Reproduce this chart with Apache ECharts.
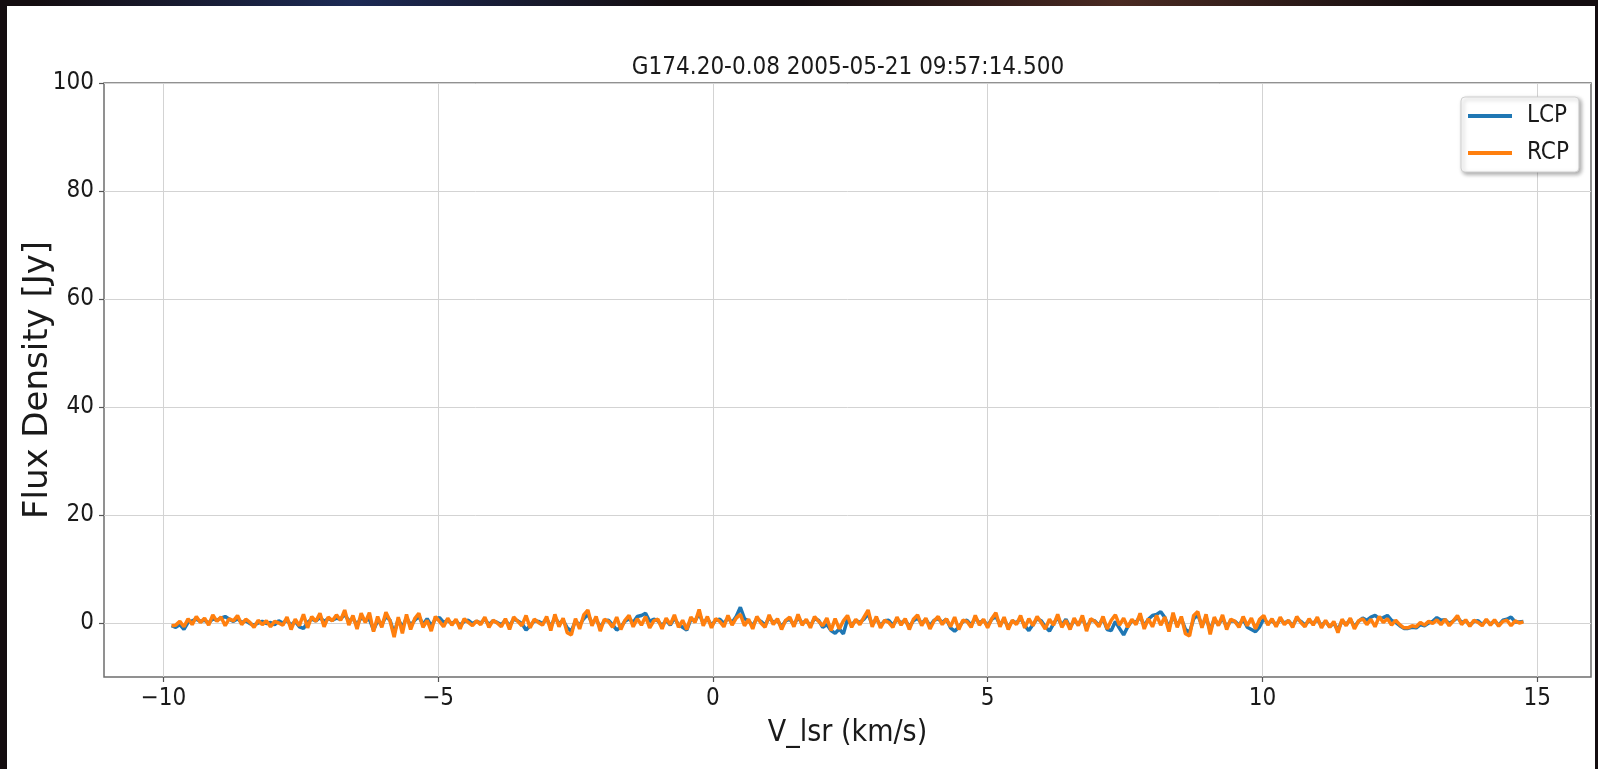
<!DOCTYPE html>
<html>
<head>
<meta charset="utf-8">
<title>G174.20-0.08 spectrum</title>
<script src="https://cdn.jsdelivr.net/npm/echarts@6/dist/echarts.min.js"></script>
<style>
  html, body {
    margin: 0;
    padding: 0;
    width: 1598px;
    height: 769px;
    overflow: hidden;
    /* dark starfield behind the panel */
    background: radial-gradient(ellipse at 22% 0%, #1c2a55 0%, rgba(0,0,0,0) 18%),
                radial-gradient(ellipse at 70% 0%, #4a2a22 0%, rgba(0,0,0,0) 20%),
                #140d10;
  }
  .panel {
    position: absolute;
    left: 7px;
    top: 6px;
    width: 1588px;
    height: 763px;
    background: #ffffff;
  }
  #chart {
    position: absolute;
    left: 0;
    top: 0;
    width: 1598px;
    height: 769px;
  }
</style>
</head>
<body>
<div class="panel"></div>
<div id="chart"></div>
<script>
// 标题 / 轴名
const titleText = 'G174.20-0.08 2005-05-21 09:57:14.500'
const seriesNames = ['LCP', 'RCP']

// 速度通道范围 (km/s)
const velStart = -9.85
const velEnd = 14.75

// 刻度
const xTicks = [-10, -5, 0, 5, 10, 15]
const yTicks = [0, 20, 40, 60, 80, 100]

// LCP 流量 (Jy)
const lcpFlux = [
  -0.5,-0.8,-0.3,-1.2,0.1,0.4,0.7,0.3,0.5,0.0,0.8,0.5,0.9,1.2,0.7,0.3,0.8,0.1,0.4,-0.1,
  -0.4,0.0,0.3,-0.1,0.1,-0.3,0.4,0.0,0.5,-0.4,0.3,-0.7,-1.0,0.1,0.7,0.4,1.0,0.3,0.8,0.5,
  0.9,0.7,1.6,0.4,0.8,-0.3,1.0,0.5,0.7,-1.3,0.4,-0.3,1.2,0.5,-1.9,0.7,-0.8,1.0,-0.4,0.5,
  1.2,-0.3,0.8,-0.5,0.7,1.0,0.1,0.5,-0.1,0.4,-0.4,0.3,0.5,-0.1,0.3,0.0,0.7,-0.3,0.4,0.1,
  -0.3,0.5,-0.5,0.7,0.4,-0.1,-1.3,-0.5,0.4,0.3,-0.1,0.8,-0.7,1.0,-0.1,0.5,-0.9,-1.5,0.4,-0.4,
  0.8,1.6,0.0,0.7,-0.8,0.4,0.5,-0.3,-1.3,-0.7,0.3,0.8,0.1,1.2,1.4,1.8,0.3,0.7,0.4,-0.5,
  0.5,-0.4,0.9,-0.3,-0.8,-1.3,0.7,0.4,1.7,0.0,0.8,-0.4,0.5,0.7,-0.1,0.9,0.1,1.2,2.9,0.8,
  0.4,-0.5,0.8,0.3,-0.4,1.0,0.1,0.5,-0.7,0.4,0.7,-0.3,1.0,0.0,0.4,-0.5,0.8,0.5,-0.8,-0.3,
  -1.4,-1.9,-1.1,-2.0,0.7,-0.4,0.5,0.1,0.7,1.7,-0.3,0.8,-0.5,0.4,0.5,-0.4,0.7,0.0,0.5,-0.7,
  0.4,0.9,-0.1,0.7,-0.5,0.5,0.8,0.1,0.7,-0.9,-1.5,-0.8,0.3,0.5,-0.4,0.9,0.0,0.5,-0.5,0.7,
  1.2,-0.3,0.7,-0.8,0.4,0.0,0.9,-0.5,-1.4,-0.3,0.8,0.4,-0.7,-1.5,-0.1,1.0,-0.4,0.7,-0.8,0.5,
  -0.3,0.9,-0.9,0.5,0.4,-0.4,0.8,-1.2,-1.4,0.3,-1.0,-2.2,-0.7,0.4,0.1,1.2,-0.5,0.7,1.4,1.6,
  2.1,1.0,-0.8,1.3,-0.4,0.8,-1.2,-1.7,0.8,1.5,-0.5,1.0,-1.3,0.7,-0.3,0.9,-0.7,0.4,0.3,-0.4,
  0.7,-0.8,-1.2,-1.6,-0.7,0.8,-0.1,0.5,-0.4,0.7,0.0,0.4,-0.5,0.8,0.3,-0.4,0.5,-0.1,0.7,-0.5,
  0.3,-0.7,0.0,-1.3,0.4,-0.3,0.7,-0.7,0.3,0.9,0.5,1.1,1.4,0.8,1.0,1.4,0.5,0.1,-0.5,-1.0,
  -1.0,-0.8,-0.9,-0.3,-0.5,0.0,0.3,1.0,0.5,0.6,-0.1,0.4,1.0,0.1,0.4,-0.4,0.3,0.4,-0.3,0.5,
  -0.2,0.4,-0.4,0.5,0.7,1.1,0.2,0.2,0.3
]

// RCP 流量 (Jy)
const rcpFlux = [
  -0.5,-0.4,0.3,-0.7,0.8,-0.3,1.2,0.1,0.9,-0.4,1.5,0.3,1.1,-0.5,0.8,0.4,1.4,-0.3,0.7,0.1,
  -0.8,0.5,-0.3,0.4,-0.7,0.3,0.0,-0.4,1.1,-1.2,0.7,-0.5,1.6,-0.9,1.2,0.3,1.8,-0.7,1.1,0.4,
  1.5,0.5,2.4,-0.4,1.4,-1.1,1.8,0.1,1.9,-1.6,1.2,-0.8,2.0,0.4,-2.6,1.1,-1.9,1.6,-1.2,0.8,
  1.8,-0.8,0.5,-1.5,1.2,0.3,-0.7,0.9,-0.4,0.7,-1.1,0.8,0.1,-0.5,0.4,-0.3,1.1,-0.8,0.5,0.0,
  -0.7,0.8,-1.2,1.1,0.3,-0.5,1.4,-0.9,0.7,0.1,-0.4,1.2,-1.4,1.6,-0.7,0.9,-1.8,-2.2,0.8,-1.1,
  1.5,2.4,-0.5,1.2,-1.5,0.7,0.3,-0.8,1.1,-1.2,0.5,1.4,-0.7,0.8,-0.4,1.2,-0.9,0.4,0.7,-1.1,
  0.9,-0.3,1.5,-0.8,0.5,-1.2,1.1,0.1,2.5,-0.5,1.2,-0.9,0.8,0.3,-0.7,1.4,-0.4,0.9,1.6,-0.5,
  0.7,-1.1,1.2,0.0,-0.8,1.5,-0.3,0.8,-1.2,0.5,1.1,-0.7,1.6,-0.4,0.7,-0.9,1.2,0.3,-0.5,0.9,
  -1.4,0.8,-1.1,0.4,1.4,-0.8,0.7,-0.3,1.1,2.4,-0.7,1.2,-0.9,0.5,0.1,-0.8,1.1,-0.4,0.8,-1.2,
  0.7,1.5,-0.5,0.9,-1.1,0.4,1.2,-0.3,0.8,-0.7,1.1,-1.2,0.5,0.3,-0.8,1.4,-0.4,0.7,-0.9,0.8,
  1.9,-0.7,1.1,-1.2,0.5,-0.3,1.4,-0.9,0.8,-0.5,1.2,0.1,-1.1,0.7,-0.4,1.6,-0.8,0.5,-1.2,0.9,
  -0.5,1.4,-1.5,0.8,0.3,-0.7,1.2,-1.1,0.5,1.5,-0.4,0.9,-0.8,0.7,-0.3,1.8,-1.1,0.8,-0.7,1.4,
  -0.4,1.1,-1.6,1.9,-0.8,1.2,-2.0,-2.4,1.4,2.1,-0.9,1.6,-2.1,1.1,-0.5,1.5,-1.2,0.7,0.3,-0.8,
  1.2,-0.5,0.9,-1.1,0.7,1.4,-0.4,0.8,-0.7,1.1,-0.3,0.5,-0.8,1.2,0.1,-0.7,0.8,-0.4,1.1,-0.9,
  0.5,-0.8,0.3,-1.8,0.7,-0.5,0.9,-1.1,0.4,0.8,-0.3,0.7,-0.7,1.2,0.1,0.8,-0.4,0.5,-0.3,-0.9,
  -0.9,-0.5,-0.7,0.1,-0.4,0.3,-0.1,0.6,-0.3,0.7,-0.5,0.4,1.4,-0.3,0.6,-0.6,0.5,0.1,-0.5,0.7,
  -0.4,0.6,-0.6,0.3,0.5,-0.5,0.4,0.0,0.2
]

// 通道 -> [速度, 流量]
const toPoints = (flux) => {
  const step = (velEnd - velStart) / (flux.length - 1)
  return flux.map((v, i) => [velStart + i * step, v])
}

const tickFont = "'DejaVu Sans Condensed', 'DejaVu Sans', sans-serif"

const chartInstance = echarts.init(document.getElementById('chart'), null, { renderer: 'canvas' })

const option = {
  backgroundColor: 'transparent',
  animation: false,
  color: ['#1f77b4', '#ff7f0e'],
  title: {
    text: titleText,
    left: 848,
    top: 56,
    textAlign: 'center',
    padding: 0,
    textStyle: {
      fontFamily: tickFont,
      fontSize: 24,
      fontWeight: 'normal',
      color: '#1a1a1a'
    }
  },
  legend: {
    data: seriesNames,
    orient: 'vertical',
    left: 1461,
    top: 97,
    padding: [7, 10, 7, 7],
    itemGap: 13,
    itemWidth: 44,
    itemHeight: 4,
    icon: 'rect',
    backgroundColor: '#ffffff',
    borderColor: '#d0d0d0',
    borderWidth: 1,
    borderRadius: 4,
    shadowBlur: 4,
    shadowColor: 'rgba(0,0,0,0.35)',
    shadowOffsetX: 2,
    shadowOffsetY: 2,
    textStyle: {
      fontFamily: tickFont,
      fontSize: 24,
      color: '#1a1a1a',
      padding: [0, 0, 0, 10]
    }
  },
  grid: {
    left: 104,
    top: 83,
    width: 1487,
    height: 594,
    show: true,
    borderColor: '#6e6e6e',
    borderWidth: 1.5,
    containLabel: false
  },
  xAxis: {
    type: 'value',
    min: -11.08,
    max: 15.98,
    name: 'V_lsr (km/s)',
    nameLocation: 'middle',
    nameGap: 41,
    nameMoveOverlap: false,
    nameTextStyle: {
      fontFamily: tickFont,
      fontSize: 30,
      color: '#1a1a1a'
    },
    axisLine: { show: false, onZero: false },
    axisTick: {
      show: true,
      customValues: xTicks,
      length: 5,
      lineStyle: { color: '#555', width: 1.2 }
    },
    axisLabel: {
      customValues: xTicks,
      margin: 10,
      fontFamily: tickFont,
      fontSize: 24,
      color: '#1a1a1a',
      formatter: (v) => String(v).replace('-', '\u2212')
    },
    splitLine: { show: true, lineStyle: { color: '#d3d3d3', width: 1 } }
  },
  yAxis: {
    type: 'value',
    min: -10,
    max: 100,
    name: 'Flux Density [Jy]',
    nameLocation: 'middle',
    nameRotate: 90,
    nameGap: 49,
    nameMoveOverlap: false,
    nameTextStyle: {
      fontFamily: "'DejaVu Sans', sans-serif",
      fontSize: 34,
      color: '#1a1a1a'
    },
    axisLine: { show: false, onZero: false },
    axisTick: {
      show: true,
      customValues: yTicks,
      length: 5,
      lineStyle: { color: '#555', width: 1.2 }
    },
    axisLabel: {
      customValues: yTicks,
      margin: 10,
      fontFamily: tickFont,
      fontSize: 24,
      color: '#1a1a1a'
    },
    splitLine: { show: true, lineStyle: { color: '#d3d3d3', width: 1 } }
  },
  series: [
    {
      name: seriesNames[0],
      type: 'line',
      showSymbol: false,
      symbol: 'none',
      lineStyle: { width: 3.5 },
      data: toPoints(lcpFlux)
    },
    {
      name: seriesNames[1],
      type: 'line',
      showSymbol: false,
      symbol: 'none',
      lineStyle: { width: 3.5 },
      data: toPoints(rcpFlux)
    }
  ]
}

chartInstance.setOption(option)
</script>
</body>
</html>
